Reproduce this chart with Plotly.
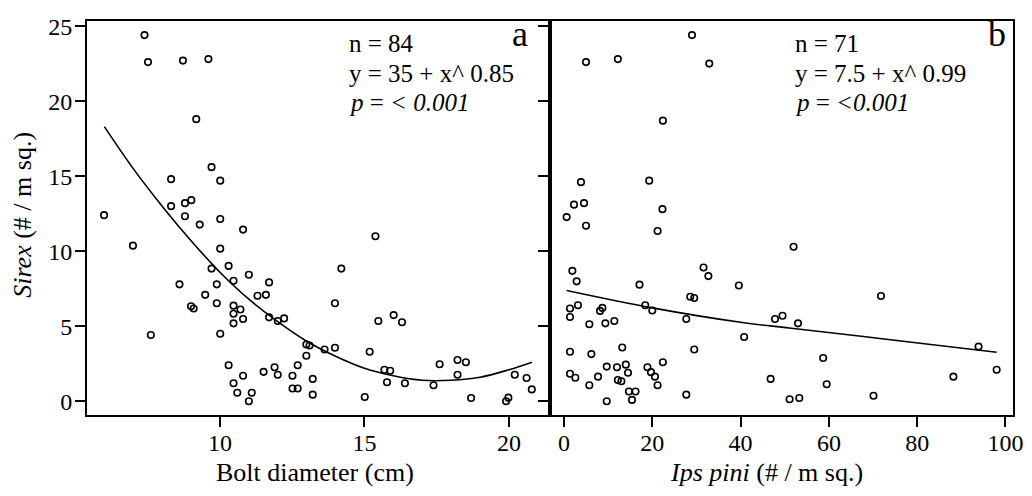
import plotly.graph_objects as go

# Panel a: Sirex vs bolt diameter
bolt_diam = [7.39, 7.51, 8.72, 9.60, 9.18, 9.71, 8.31, 10.01, 9.01, 8.79, 8.31, 5.99,
             8.79, 10.01, 9.30, 10.80, 6.99, 10.01, 10.30, 9.71, 11.00, 10.47, 11.70, 8.60,
             9.89, 9.49, 11.30, 11.59, 9.89, 9.00, 9.09, 10.47, 10.71, 10.47, 10.80, 10.47,
             11.70, 12.00, 12.22, 7.61, 10.01, 12.99, 13.10, 12.99, 12.69, 10.30, 11.89, 11.51,
             12.00, 10.80, 12.51, 13.21, 10.47, 12.51, 12.69, 10.60, 11.10, 13.21, 11.00,
             15.38, 14.20, 13.98, 16.01, 15.48, 16.30, 13.62, 13.98, 15.18, 15.69, 15.89,
             15.78, 16.40, 15.01, 17.39, 17.60, 18.22, 18.51, 18.22, 18.69, 19.90, 19.98,
             20.20, 20.61, 20.79]
sirex_a = [24.4, 22.6, 22.7, 22.8, 18.8, 15.6, 14.8, 14.7, 13.4, 13.2, 13.0, 12.4,
           12.33, 12.14, 11.77, 11.44, 10.37, 10.17, 9.02, 8.84, 8.43, 8.03, 7.92, 7.79,
           7.79, 7.09, 7.03, 7.09, 6.53, 6.33, 6.18, 6.37, 6.11, 5.83, 5.48, 5.19,
           5.59, 5.35, 5.52, 4.41, 4.50, 3.78, 3.71, 3.03, 2.40, 2.40, 2.27, 1.96,
           1.77, 1.70, 1.70, 1.49, 1.20, 0.85, 0.85, 0.57, 0.57, 0.44, 0.00,
           11.0, 8.84, 6.53, 5.74, 5.35, 5.26, 3.45, 3.56, 3.30, 2.10, 2.03,
           1.27, 1.20, 0.28, 1.07, 2.47, 2.75, 2.60, 1.77, 0.22, 0.00, 0.24,
           1.77, 1.55, 0.79]

# Fitted curve a
fit_a_x = [6.0, 7.0, 8.0, 9.0, 10.0, 11.0, 12.0, 13.0, 14.0, 15.0, 16.0, 17.0, 18.0, 19.0, 20.0, 20.8]
fit_a_y = [18.3, 15.5, 13.0, 10.7, 8.6, 6.8, 5.3, 4.0, 3.0, 2.2, 1.7, 1.4, 1.4, 1.6, 2.1, 2.6]

# Panel b: Sirex vs Ips pini
ips_pini = [29.0, 4.99, 12.2, 32.9, 22.4, 3.85, 19.3, 2.27, 4.54, 22.3,
            0.60, 4.99, 21.2, 1.89, 2.87, 17.1, 31.6, 32.7, 39.6, 28.6, 29.5, 1.36, 3.17,
            1.36, 8.16, 8.69, 18.4, 20.0, 5.74, 9.37, 11.4, 27.7, 47.8, 49.5, 40.8, 1.36,
            6.20, 13.2, 29.5, 22.4, 1.36, 2.57, 7.71, 5.74, 9.68, 12.0, 14.0, 14.5, 12.2,
            13.0, 18.9, 19.7, 20.6, 21.2, 14.7, 16.2, 15.4, 9.68, 27.7, 46.8, 51.1,
            52.0, 71.8, 53.0, 58.7, 59.5, 53.3, 70.1, 88.2, 93.9, 98.0]
sirex_b = [24.4, 22.6, 22.8, 22.5, 18.7, 14.6, 14.7, 13.1, 13.2, 12.8,
           12.27, 11.70, 11.35, 8.69, 7.99, 7.77, 8.91, 8.34, 7.71, 6.96, 6.88, 6.18, 6.40,
           5.61, 6.02, 6.22, 6.40, 6.05, 5.13, 5.19, 5.35, 5.48, 5.48, 5.70, 4.28, 3.30,
           3.14, 3.58, 3.45, 2.60, 1.83, 1.57, 1.64, 1.07, 2.31, 2.27, 2.44, 1.90, 1.42,
           1.33, 2.27, 1.94, 1.64, 1.07, 0.65, 0.65, 0.09, 0.00, 0.44, 1.49, 0.13,
           10.30, 7.01, 5.19, 2.88, 1.13, 0.22, 0.37, 1.64, 3.64, 2.10]

fit_b_x = [0.6, 20.0, 40.0, 51.0, 72.0, 98.0]
fit_b_y = [7.38, 6.22, 5.26, 4.88, 4.17, 3.27]

x_ticks_a = [10, 15, 20]
x_ticks_b = [0, 20, 40, 60, 80, 100]
y_ticks = [0, 5, 10, 15, 20, 25]

FONT = "'Liberation Serif', 'Times New Roman', Times, 'DejaVu Serif', serif"
marker = dict(symbol="circle-open", size=6.5, color="black", line=dict(width=1.6, color="black"))

fig = go.Figure()
fig.add_trace(go.Scatter(x=bolt_diam, y=sirex_a, mode="markers", marker=marker, xaxis="x", yaxis="y"))
fig.add_trace(go.Scatter(x=fit_a_x, y=fit_a_y, mode="lines", line=dict(color="black", width=1.6, shape="spline"),
                         xaxis="x", yaxis="y"))
fig.add_trace(go.Scatter(x=ips_pini, y=sirex_b, mode="markers", marker=marker, xaxis="x2", yaxis="y2"))
fig.add_trace(go.Scatter(x=fit_b_x, y=fit_b_y, mode="lines", line=dict(color="black", width=1.6, shape="spline"),
                         xaxis="x2", yaxis="y2"))

ax_common = dict(showgrid=False, zeroline=False, showline=True, linewidth=2, linecolor="black",
                 mirror=True, ticks="outside", ticklen=10, tickwidth=2, tickcolor="black",
                 tickfont=dict(family=FONT, size=24, color="black"))

yrange = [-0.917, 25.34]
# the page body keeps its default 8px margin; size/margins are set so the plot
# area lands at x 87..1013, y 14..415 of the 1032x496 window
fig.update_layout(
    width=1024, height=488,
    margin=dict(l=79, r=19, t=6, b=81),
    paper_bgcolor="white", plot_bgcolor="white",
    showlegend=False,
    font=dict(family=FONT, color="black"),
    xaxis=dict(domain=[0, 0.5], range=[5.40, 21.42], tickvals=x_ticks_a, anchor="y",
               ticklabelstandoff=-5, **ax_common),
    yaxis=dict(domain=[0, 1], range=yrange, tickvals=y_ticks, anchor="x",
               ticklabelstandoff=-2, **ax_common),
    xaxis2=dict(domain=[0.5, 1], range=[-3.17, 101.7], tickvals=x_ticks_b, anchor="y2",
                ticklabelstandoff=-5, **ax_common),
    yaxis2=dict(domain=[0, 1], range=yrange, tickvals=y_ticks, anchor="x2", showticklabels=False, **ax_common),
)

def ann(text, x, y, size=25, xanchor="left", yanchor="middle", angle=0):
    fig.add_annotation(text=text, x=x, y=y, xref="paper", yref="paper", showarrow=False,
                       xanchor=xanchor, yanchor=yanchor, textangle=angle,
                       font=dict(family=FONT, size=size, color="black"))

# panel a stats
ann("n = 84", 0.2808, 0.943)
ann("y = 35 + x^ 0.85", 0.2808, 0.868)
ann("<i>p</i> = <i>&lt; 0.001</i>", 0.2808, 0.793)
ann("a", 0.4676, 0.967, size=36, xanchor="center")
# panel b stats
ann("n = 71", 0.7624, 0.943)
ann("y = 7.5 + x^ 0.99", 0.7624, 0.868)
ann("<i>p</i> = <i>&lt;0.001</i>", 0.7624, 0.793)
ann("b", 0.9827, 0.967, size=36, xanchor="center")

# axis titles
ann("Bolt diameter (cm)", 0.2462, -0.146, size=26, xanchor="center")
ann("<i>Ips pini</i> (# / m sq.)", 0.7333, -0.146, size=26, xanchor="center")
ann("<i>Sirex</i> (# / m sq.)", -0.070, 0.5087, size=26, xanchor="center", angle=-90)

fig.write_html("out.html")
